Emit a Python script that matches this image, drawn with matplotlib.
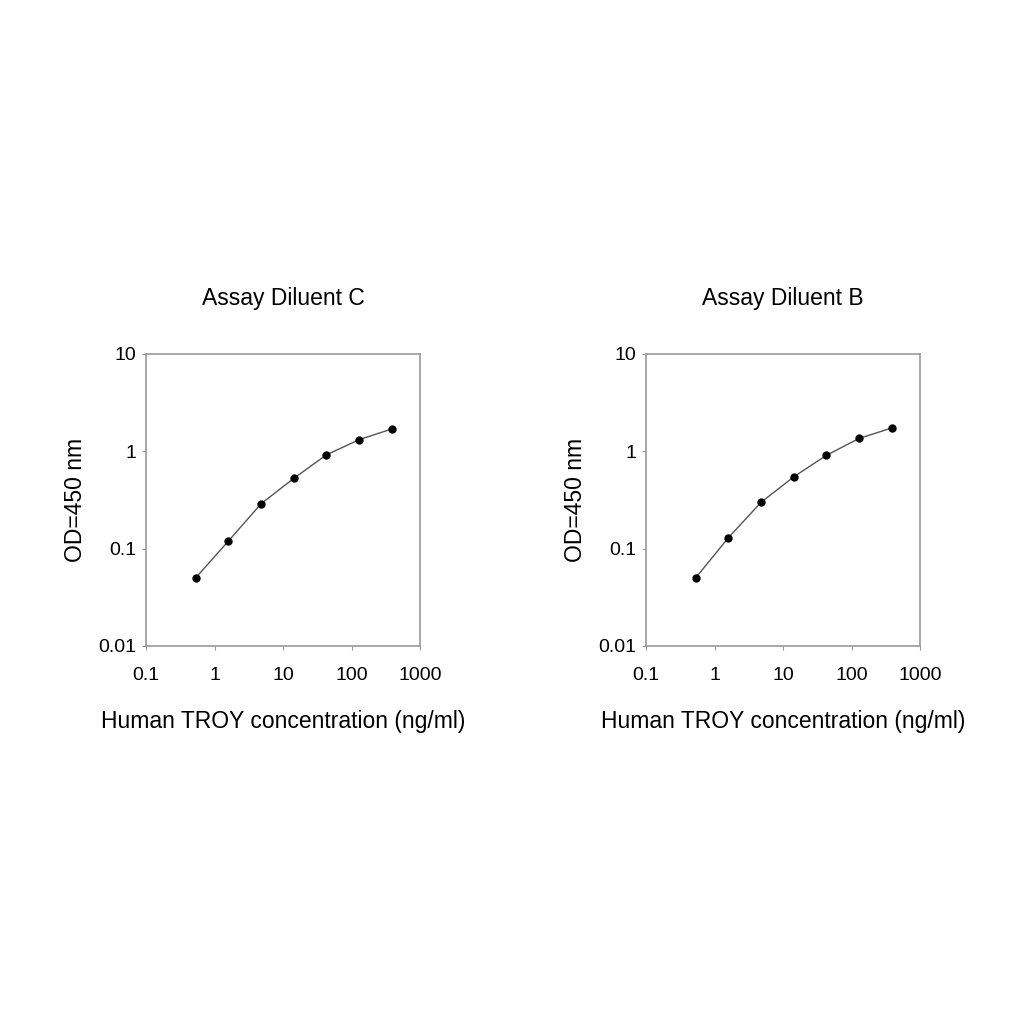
import matplotlib
matplotlib.use('Agg')
import matplotlib.pyplot as plt
from matplotlib.ticker import FixedLocator, FixedFormatter, NullLocator

plt.rcParams['font.family'] = ['Liberation Sans', 'DejaVu Sans']

# TROY concentration (ng/ml) and OD450 readings
conc = [0.53, 1.6, 4.8, 14.5, 43, 130, 390]
od_c = [0.050, 0.12, 0.29, 0.53, 0.92, 1.32, 1.70]
od_b = [0.050, 0.13, 0.30, 0.55, 0.91, 1.36, 1.74]

titles = ['Assay Diluent C', 'Assay Diluent B']
xticks = [0.1, 1, 10, 100, 1000]
xtick_labels = ['0.1', '1', '10', '100', '1000']
yticks = [0.01, 0.1, 1, 10]
ytick_labels = ['0.01', '0.1', '1', '10']

fig = plt.figure(figsize=(10.24, 10.24), dpi=100)
axes = [fig.add_axes([146/1024, 1-646/1024, 274/1024, 292/1024]),
        fig.add_axes([646/1024, 1-646/1024, 274/1024, 292/1024])]

for ax, od, title in zip(axes, [od_c, od_b], titles):
    ax.plot(conc, od, color='#555555', lw=1.0, marker='o', ms=5,
            mfc='black', mec='black')
    ax.set_xscale('log')
    ax.set_yscale('log')
    ax.set_xlim(0.1, 1000)
    ax.set_ylim(0.01, 10)
    ax.xaxis.set_major_locator(FixedLocator(xticks))
    ax.xaxis.set_major_formatter(FixedFormatter(xtick_labels))
    ax.yaxis.set_major_locator(FixedLocator(yticks))
    ax.yaxis.set_major_formatter(FixedFormatter(ytick_labels))
    ax.xaxis.set_minor_locator(NullLocator())
    ax.yaxis.set_minor_locator(NullLocator())
    for s in ax.spines.values():
        s.set_color('#999999')
        s.set_linewidth(1.2)
    ax.tick_params(length=3, color='#999999', labelsize=14)
    ax.tick_params(axis='x', pad=12)
    ax.tick_params(axis='y', pad=4)
    ax.set_title(title, fontsize=16.5, pad=35)
    ax.set_xlabel('Human TROY concentration (ng/ml)', fontsize=16.5, labelpad=19)
    ax.set_ylabel('OD=450 nm', fontsize=16.5, labelpad=8)

fig.savefig('out.png', dpi=100, facecolor='white')
